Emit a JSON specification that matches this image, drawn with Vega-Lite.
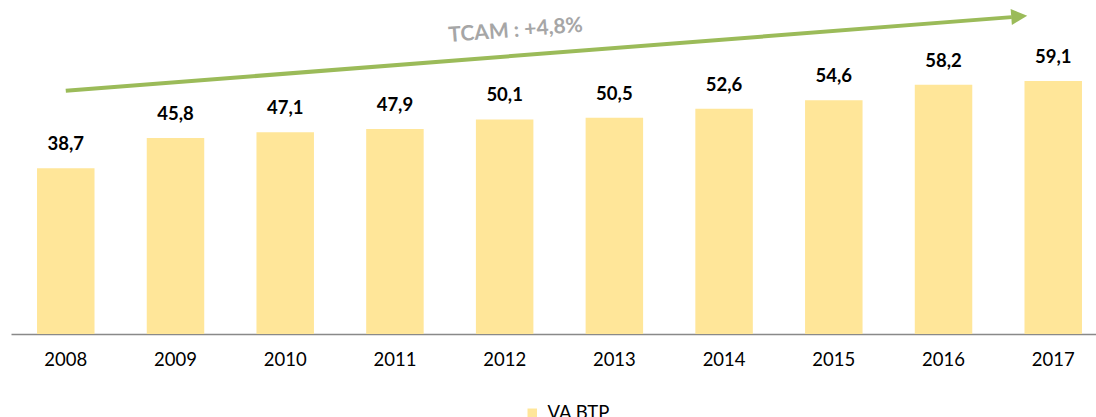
{
  "$schema": "https://vega.github.io/schema/vega-lite/v6.json",
  "width": 1085,
  "height": 334,
  "autosize": {"type": "none"},
  "padding": {"left": 11, "top": 0, "right": 0, "bottom": 83},
  "config": {"view": {"stroke": null}, "font": "Lato"},
  "datasets": {
    "bars": [
      {"year": "2008", "value": 38.7, "label": "38,7", "series": "VA BTP"},
      {"year": "2009", "value": 45.8, "label": "45,8", "series": "VA BTP"},
      {"year": "2010", "value": 47.1, "label": "47,1", "series": "VA BTP"},
      {"year": "2011", "value": 47.9, "label": "47,9", "series": "VA BTP"},
      {"year": "2012", "value": 50.1, "label": "50,1", "series": "VA BTP"},
      {"year": "2013", "value": 50.5, "label": "50,5", "series": "VA BTP"},
      {"year": "2014", "value": 52.6, "label": "52,6", "series": "VA BTP"},
      {"year": "2015", "value": 54.6, "label": "54,6", "series": "VA BTP"},
      {"year": "2016", "value": 58.2, "label": "58,2", "series": "VA BTP"},
      {"year": "2017", "value": 59.1, "label": "59,1", "series": "VA BTP"}
    ],
    "arrow": [{"x1": "2008", "x2": "2017", "y1": 56.8, "y2": 74.0}],
    "head": [{"year": "2017", "y": 74.17}],
    "note": [{"year": "2012", "label": "TCAM : +4,8%", "y": 70.6}]
  },
  "layer": [
    {
      "data": {"name": "bars"},
      "mark": {"type": "bar"},
      "encoding": {
        "x": {
          "field": "year", "type": "ordinal",
          "scale": {"paddingInner": 0.476, "paddingOuter": 0.1825, "align": 0.65},
          "axis": {"title": null, "labelAngle": 0, "ticks": false, "labelFontSize": 18.5, "labelColor": "#000000", "labelPadding": 16, "domainColor": "#898989", "domainWidth": 1.5}
        },
        "y": {"field": "value", "type": "quantitative", "scale": {"domain": [0, 78]}, "axis": null},
        "color": {
          "field": "series", "type": "nominal",
          "scale": {"range": ["#FFE699"]},
          "legend": {"orient": "none", "legendX": 512, "legendY": 404, "title": null, "symbolType": "square", "symbolSize": 90, "labelFontSize": 18.5, "labelColor": "#000000", "labelOffset": 6, "padding": 0}
        }
      }
    },
    {
      "data": {"name": "bars"},
      "mark": {"type": "text", "dy": -18, "baseline": "alphabetic", "fontWeight": "bold", "fontSize": 18.5, "color": "#000000"},
      "encoding": {
        "x": {"field": "year", "type": "ordinal"},
        "y": {"field": "value", "type": "quantitative", "scale": {"domain": [0, 78]}},
        "text": {"field": "label"}
      }
    },
    {
      "data": {"name": "arrow"},
      "mark": {"type": "rule", "color": "#9BBB59", "strokeWidth": 4, "x2Offset": -41.5},
      "encoding": {
        "x": {"field": "x1", "type": "ordinal"},
        "x2": {"field": "x2"},
        "y": {"field": "y1", "type": "quantitative", "scale": {"domain": [0, 78]}},
        "y2": {"field": "y2"}
      }
    },
    {
      "data": {"name": "head"},
      "mark": {"type": "point", "shape": "M-1,-1L1,0L-1,1Z", "size": 256, "filled": true, "opacity": 1, "color": "#9BBB59", "angle": -4.46, "xOffset": -34},
      "encoding": {
        "x": {"field": "year", "type": "ordinal"},
        "y": {"field": "y", "type": "quantitative", "scale": {"domain": [0, 78]}}
      }
    },
    {
      "data": {"name": "note"},
      "mark": {"type": "text", "color": "#A6A6A6", "fontWeight": "bold", "fontSize": 21, "angle": -4.46, "dx": 11, "align": "center", "baseline": "middle"},
      "encoding": {
        "x": {"field": "year", "type": "ordinal"},
        "y": {"field": "y", "type": "quantitative", "scale": {"domain": [0, 78]}},
        "text": {"field": "label"}
      }
    }
  ]
}
